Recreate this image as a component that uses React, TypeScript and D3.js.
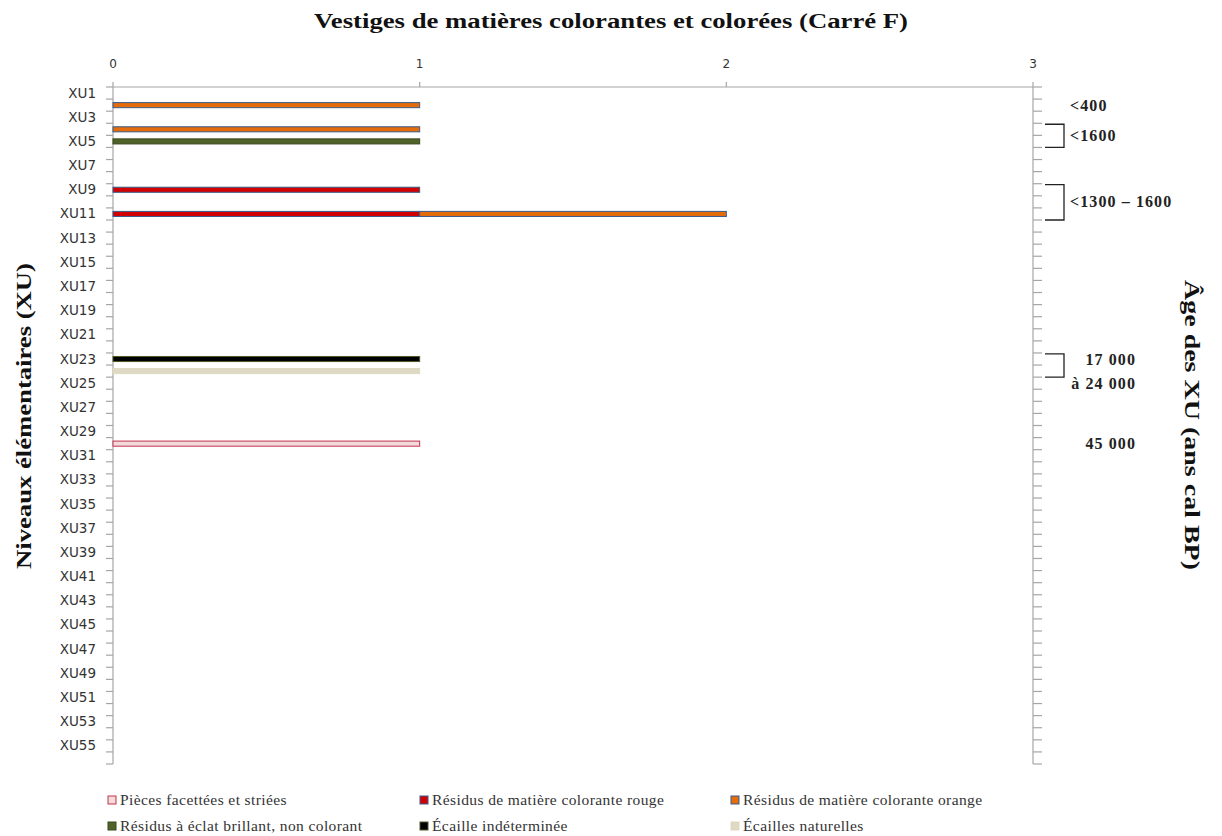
import React from "react";
import * as d3 from "d3";

const W = 1222;
const H = 836;

// Categories XU1..XU56
const categories: string[] = [
  "XU1","XU2","XU3","XU4","XU5","XU6","XU7","XU8","XU9","XU10",
  "XU11","XU12","XU13","XU14","XU15","XU16","XU17","XU18","XU19","XU20",
  "XU21","XU22","XU23","XU24","XU25","XU26","XU27","XU28","XU29","XU30",
  "XU31","XU32","XU33","XU34","XU35","XU36","XU37","XU38","XU39","XU40",
  "XU41","XU42","XU43","XU44","XU45","XU46","XU47","XU48","XU49","XU50",
  "XU51","XU52","XU53","XU54","XU55","XU56",
];

// Series values (non-zero entries only; all others are 0)
const facettees: [string, number][] = [["XU30", 1]];
const rouge: [string, number][] = [["XU9", 1], ["XU11", 1]];
const orange: [string, number][] = [["XU2", 1], ["XU4", 1], ["XU11", 1]];
const brillant: [string, number][] = [["XU5", 1]];
const indeterminee: [string, number][] = [["XU23", 1]];
const naturelles: [string, number][] = [["XU24", 1]];

const seriesNames = [
  "Pièces facettées et striées",
  "Résidus de matière colorante rouge",
  "Résidus de matière colorante orange",
  "Résidus à éclat brillant, non colorant",
  "Écaille indéterminée",
  "Écailles naturelles",
];
const seriesData = [facettees, rouge, orange, brillant, indeterminee, naturelles];
const seriesFill = ["#f2dcdb", "#d20000", "#e46c0a", "#4f6228", "#000000", "#ddd9c3"];
const seriesStroke = ["#c3324e", "#385d8a", "#385d8a", "#3b4a1e", "#4f5a28", "#ddd9c3"];

const xTicks = [0, 1, 2, 3];

// Age annotations (right side)
const ageLabels: { lines: string[]; from: string; to: string; bracket: boolean; anchor: string }[] = [
  { lines: ["<400"], from: "XU2", to: "XU2", bracket: false, anchor: "start" },
  { lines: ["<1600"], from: "XU4", to: "XU5", bracket: true, anchor: "start" },
  { lines: ["<1300 – 1600"], from: "XU9", to: "XU11", bracket: true, anchor: "start" },
  { lines: ["17 000", "à 24 000"], from: "XU23", to: "XU24", bracket: true, anchor: "end" },
  { lines: ["45 000"], from: "XU30", to: "XU30", bracket: false, anchor: "end" },
];

const title = "Vestiges de matières colorantes et colorées (Carré F)";
const yTitle = "Niveaux élémentaires (XU)";
const y2Title = "Âge des XU (ans cal BP)";

export default function App() {
  const left = 113, right = 1033, top = 87, bottom = 764;
  const x = d3.scaleLinear().domain([0, 3]).range([left, right]);
  const y = d3.scaleBand<string>().domain(categories).range([top, bottom]).padding(0);
  const bw = y.bandwidth();
  const barH = bw * 0.42;

  // Build stacked table
  const table = categories.map((c) => {
    const row: any = { cat: c };
    seriesData.forEach((s, i) => {
      const f = s.find((e) => e[0] === c);
      row["s" + i] = f ? f[1] : 0;
    });
    return row;
  });
  const keys = seriesData.map((_, i) => "s" + i);
  const stacked = d3.stack<any>().keys(keys)(table);

  const axisColor = "#a6a6a6";
  const serif = "'Liberation Serif', 'DejaVu Serif', serif";
  const sans = "'DejaVu Sans', Verdana, sans-serif";

  const boundaries = d3.range(categories.length + 1).map((i) => top + i * bw);

  const legendCols = [108, 420, 731];
  const legendRows = [800, 826];

  return (
    <div style={{ position: "absolute", left: 0, top: 0 }}>
      <svg width={W} height={H} style={{ display: "block", background: "#fff" }}>
        {/* Title */}
        <text x={611} y={28} textAnchor="middle" fontFamily={serif} fontWeight="bold" fontSize={20}
          textLength={594} lengthAdjust="spacingAndGlyphs" fill="#111">{title}</text>

        {/* Top axis */}
        <line x1={left} x2={right} y1={top} y2={top} stroke={axisColor} strokeWidth={1.2} />
        {xTicks.map((t) => (
          <g key={"xt" + t}>
            <line x1={x(t)} x2={x(t)} y1={top} y2={top - 5} stroke={axisColor} strokeWidth={1.2} />
            <text x={x(t)} y={68} textAnchor="middle" fontFamily={sans} fontSize={12} fill="#333">{t}</text>
          </g>
        ))}

        {/* Left axis */}
        <line x1={left} x2={left} y1={top} y2={bottom} stroke={axisColor} strokeWidth={1.2} />
        {boundaries.map((b, i) => (
          <line key={"lt" + i} x1={left - 7} x2={left} y1={b} y2={b} stroke={axisColor} strokeWidth={1.2} />
        ))}
        {categories.map((c, i) =>
          i % 2 === 0 ? (
            <text key={"ll" + c} x={96} y={(y(c) as number) + bw / 2 + 4.5} textAnchor="end"
              fontFamily={sans} fontSize={13.5} fill="#333">{c}</text>
          ) : null
        )}

        {/* Right axis */}
        <line x1={right} x2={right} y1={top} y2={bottom} stroke={axisColor} strokeWidth={1.2} />
        {boundaries.map((b, i) => (
          <line key={"rt" + i} x1={right} x2={right + 9} y1={b} y2={b} stroke={axisColor} strokeWidth={1.2} />
        ))}

        {/* Bars */}
        {stacked.map((layer, si) => (
          <g key={"layer" + si}>
            {layer.map((d, ci) =>
              d[1] - d[0] > 0 ? (
                <rect key={ci}
                  x={x(d[0])} width={x(d[1]) - x(d[0])}
                  y={(y(categories[ci]) as number) + (bw - barH) / 2} height={barH}
                  fill={seriesFill[si]} stroke={seriesStroke[si]} strokeWidth={1} />
              ) : null
            )}
          </g>
        ))}

        {/* Age annotations */}
        {ageLabels.map((a, i) => {
          const y0 = y(a.from) as number;
          const y1 = (y(a.to) as number) + bw;
          const mid = a.lines.length > 1 ? y0 + bw / 2 : (y0 + y1) / 2;
          const tx = a.anchor === "start" ? 1070 : 1136;
          return (
            <g key={"age" + i}>
              {a.bracket && (
                <path d={`M1045,${y0 + 1}H1064V${y1}H1045`} fill="none" stroke="#222" strokeWidth={1.3} />
              )}
              {a.lines.map((l, li) => (
                <text key={li} x={tx} y={mid + 5.5 + li * 24} textAnchor={a.anchor as any}
                  fontFamily={serif} fontWeight="bold" fontSize={16} letterSpacing={1.1} fill="#222">{l}</text>
              ))}
            </g>
          );
        })}

        {/* Axis titles */}
        <text transform={`translate(31,${416}) rotate(-90)`} textAnchor="middle" fontFamily={serif}
          fontWeight="bold" fontSize={20} textLength={306} lengthAdjust="spacingAndGlyphs" fill="#111">{yTitle}</text>
        <text transform={`translate(1185,${425}) rotate(90)`} textAnchor="middle" fontFamily={serif}
          fontWeight="bold" fontSize={20} textLength={290} lengthAdjust="spacingAndGlyphs" fill="#111">{y2Title}</text>

        {/* Legend */}
        {seriesNames.map((n, i) => {
          const cx = legendCols[i % 3];
          const cy = legendRows[Math.floor(i / 3)];
          return (
            <g key={"lg" + i}>
              <rect x={cx} y={cy - 4} width={8} height={8} fill={seriesFill[i]} stroke={seriesStroke[i]} strokeWidth={1} />
              <text x={cx + 12} y={cy + 5} fontFamily={serif} fontSize={15.5} letterSpacing={0.4} fill="#333">{n}</text>
            </g>
          );
        })}
      </svg>
    </div>
  );
}
